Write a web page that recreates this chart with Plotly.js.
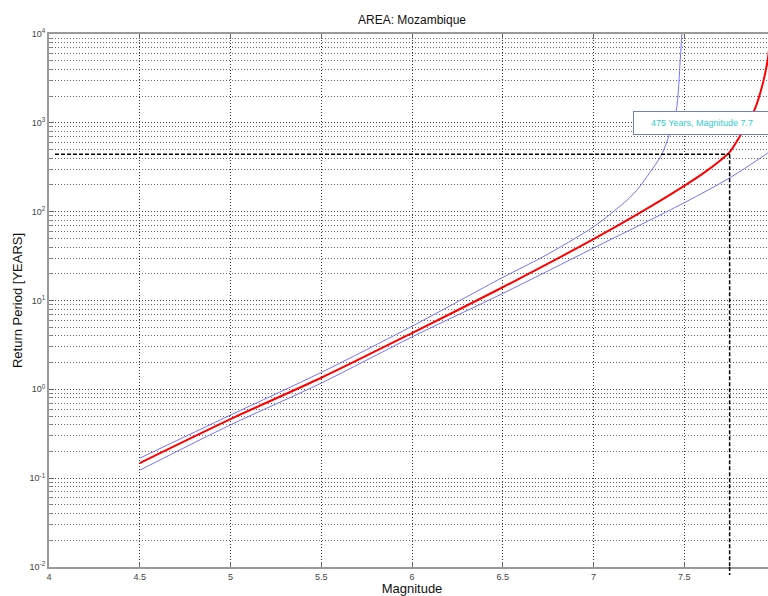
<!DOCTYPE html>
<html>
<head>
<meta charset="utf-8">
<script src="https://cdn.plot.ly/plotly-3.0.1.min.js"></script>
<style>
html,body{margin:0;padding:0;overflow:hidden;background:#fff;}
#chart{width:800px;height:596px;}
</style>
</head>
<body>
<div id="chart"></div>
<script>
// Magnitude values and return periods (years)
var magRed   = [4.5, 5.0, 5.5, 6.0, 6.5, 7.0, 7.25, 7.5, 7.6, 7.7, 7.75, 7.81, 7.85, 7.89, 7.93, 7.96, 7.99];
var tRed     = [0.148, 0.462, 1.35, 4.30, 14.1, 49.0, 95.5, 195, 266, 380, 468, 724, 1000, 1445, 2630, 5129, 19953];

var magUpper = [4.5, 5.0, 5.5, 6.0, 6.5, 6.72, 7.0, 7.185, 7.25, 7.31, 7.37, 7.41, 7.456, 7.478, 7.492];
var tUpper   = [0.168, 0.513, 1.55, 5.13, 18.2, 30.9, 67.6, 135, 186, 275, 417, 661, 1380, 5129, 15849];

var magLower = [4.5, 5.0, 5.5, 6.0, 6.5, 7.0, 7.5, 7.75, 7.96, 8.0];
var tLower   = [0.123, 0.398, 1.175, 3.89, 12.0, 38.9, 126, 240, 457, 525];

var xTickVals = [4, 4.5, 5, 5.5, 6, 6.5, 7, 7.5];
var xTickText = ['4', '4.5', '5', '5.5', '6', '6.5', '7', '7.5'];
var yTickVals = [0.01, 0.1, 1, 10, 100, 1000, 10000];
var yTickText = ['10<sup>-2</sup>', '10<sup>-1</sup>', '10<sup>0</sup>', '10<sup>1</sup>', '10<sup>2</sup>', '10<sup>3</sup>', '10<sup>4</sup>'];

var markPeriod = 444;      // dashed reference level (years)
var markMag = 7.75;        // dashed reference magnitude
var markStartMag = 4.033;
var labelText = '475 Years, Magnitude 7.7';

// minor grid positions (2..9 within each decade)
var minorVals = [];
for (var d = 0; d < yTickVals.length - 1; d++) {
  for (var k = 2; k <= 9; k++) minorVals.push(yTickVals[d] * k);
}

var traces = [
  {x: magUpper, y: tUpper, mode: 'lines', line: {color: '#7373ff', width: 1, shape: 'spline', smoothing: 0.8}, hoverinfo: 'skip'},
  {x: magLower, y: tLower, mode: 'lines', line: {color: '#7373ff', width: 1, shape: 'spline', smoothing: 0.8}, hoverinfo: 'skip'},
  {x: magRed, y: tRed, mode: 'lines', line: {color: '#ff0000', width: 2, shape: 'spline', smoothing: 0.8}, hoverinfo: 'skip'}
];

var fontFam = 'Liberation Sans, Arial, sans-serif';

var layout = {
  width: 800, height: 596,
  margin: {l: 49, r: 25, t: 34, b: 29},
  paper_bgcolor: '#ffffff', plot_bgcolor: '#ffffff',
  showlegend: false,
  font: {family: fontFam, color: '#222'},
  title: {text: 'AREA: Mozambique', font: {size: 12, color: '#111', family: fontFam},
          x: 0.5, xref: 'paper', y: 1 - 20/596, yref: 'container', yanchor: 'middle'},
  xaxis: {
    range: [4, 8], tickmode: 'array', tickvals: xTickVals, ticktext: xTickText,
    ticks: 'inside', ticklen: 5, tickcolor: '#666', tickfont: {size: 9, color: '#444'},
    showline: true, linecolor: '#999', linewidth: 2, mirror: 'ticks',
    showgrid: true, gridcolor: '#333', griddash: '1px,2px', gridwidth: 1,
    zeroline: false, automargin: false,
    title: {text: 'Magnitude', font: {size: 13, color: '#111'}, standoff: 4}
  },
  yaxis: {
    type: 'log', range: [-2, 4], tickmode: 'array', tickvals: yTickVals, ticktext: yTickText,
    ticks: 'inside', ticklen: 5, tickcolor: '#666', tickfont: {size: 9, color: '#444'},
    showline: true, linecolor: '#999', linewidth: 2, mirror: 'ticks',
    showgrid: true, gridcolor: '#444', griddash: '1px,2px', gridwidth: 1,
    minor: {tickmode: 'array', tickvals: minorVals, showgrid: true, gridcolor: '#666',
            griddash: '1px,2px', gridwidth: 1, ticks: 'inside', ticklen: 3, tickcolor: '#888'},
    zeroline: false, automargin: false,
    title: {text: 'Return Period [YEARS]', font: {size: 13, color: '#111'}, standoff: 4}
  },
  shapes: [
    {type: 'line', xref: 'x', yref: 'y', x0: markStartMag, x1: markMag, y0: markPeriod, y1: markPeriod,
     line: {color: '#000', width: 1.5, dash: '4px,2px'}},
    {type: 'line', xref: 'x', yref: 'y', x0: markMag, x1: markMag, y0: markPeriod, y1: yTickVals[0],
     line: {color: '#000', width: 1.5, dash: '4px,2px'}},
    {type: 'line', xref: 'paper', yref: 'paper', x0: (markMag - 4) / 4, x1: (markMag - 4) / 4, y0: 0, y1: -0.015,
     line: {color: '#000', width: 1.5, dash: '4px,2px'}}
  ],
  annotations: [
    {xref: 'paper', yref: 'paper', x: (7.22 - 4) / 4, y: (3 + 2) / 6, xanchor: 'left', yanchor: 'middle',
     text: labelText, showarrow: false, align: 'center', width: 134, height: 20,
     bgcolor: '#ffffff', bordercolor: '#6f7fc0', borderwidth: 1, borderpad: 1,
     font: {size: 9, color: '#33cccc', family: fontFam}}
  ]
};

Plotly.newPlot('chart', traces, layout, {displayModeBar: false, staticPlot: true});
</script>
</body>
</html>
